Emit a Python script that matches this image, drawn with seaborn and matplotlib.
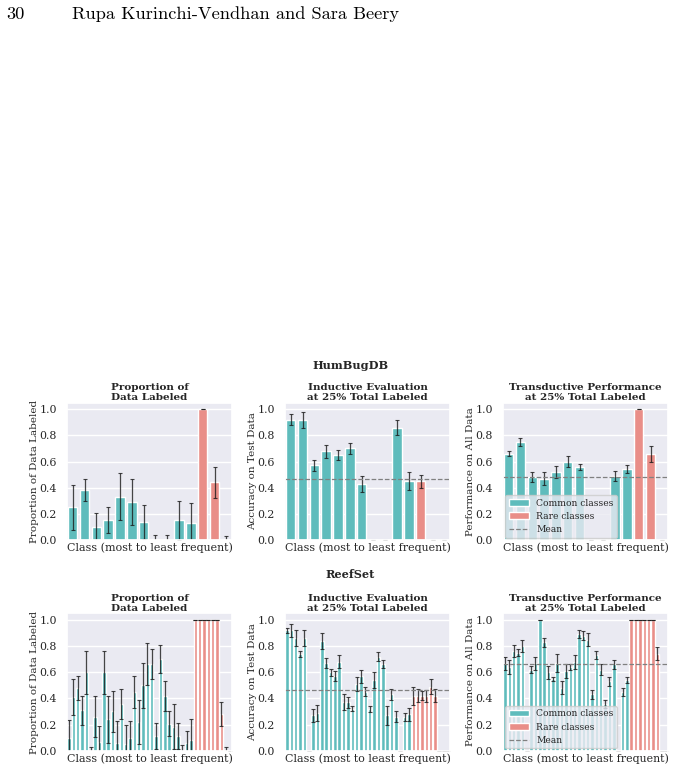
import numpy as np
import pandas as pd
import matplotlib
matplotlib.use("Agg")
import matplotlib.pyplot as plt
from matplotlib.patches import Patch
from matplotlib.lines import Line2D
import seaborn as sns

# ---- values ----
hb_prop = [0.25, 0.38, 0.10, 0.15, 0.33, 0.29, 0.14, 0, 0, 0.15, 0.13, 1.0, 0.44, 0]
hb_prop_err = [0.17, 0.085, 0.11, 0.10, 0.18, 0.175, 0.13, 0.04, 0.04, 0.15, 0.15, 0.0, 0.12, 0.03]
hb_ind = [0.92, 0.92, 0.57, 0.68, 0.65, 0.70, 0.43, 0, 0, 0.86, 0.45, 0.45, 0, 0]
hb_ind_err = [0.04, 0.06, 0.04, 0.05, 0.035, 0.04, 0.06, 0, 0, 0.06, 0.07, 0.05, 0, 0]
hb_trans = [0.66, 0.75, 0.48, 0.47, 0.52, 0.60, 0.56, 0, 0, 0.49, 0.54, 1.0, 0.66, 0]
hb_trans_err = [0.02, 0.03, 0.04, 0.05, 0.045, 0.045, 0.025, 0, 0, 0.04, 0.03, 0, 0.06, 0]
hb_rare_start = 11
hb_means = [0.47, 0.484]

rs_prop = [0.095, 0.41, 0.48, 0.31, 0.60, 0, 0.26, 0.07, 0.60, 0.24, 0.30, 0.06, 0.36,
           0.05, 0.10, 0.45, 0.22, 0.50, 0.66, 0.66, 0.11, 0.70, 0.42, 0.205, 0.185,
           0.11, 0, 0.06, 0.08, 1, 1, 1, 1, 1, 1, 0.28, 0, 0]
rs_prop_err = [0.14, 0.135, 0.095, 0.11, 0.165, 0.03, 0.155, 0.12, 0.165, 0.18, 0.155,
               0.17, 0.115, 0.15, 0.13, 0.12, 0.17, 0.17, 0.16, 0.115, 0.10, 0.105,
               0.115, 0.095, 0.17, 0.10, 0.04, 0.09, 0.16, 0, 0, 0, 0, 0, 0, 0.09, 0.03, 0]
rs_ind = [0.92, 0.92, 0.86, 0.74, 0.86, 0, 0.27, 0.29, 0.84, 0.67, 0.60, 0.57, 0.68,
          0.37, 0.37, 0.32, 0.51, 0.57, 0.45, 0.32, 0.54, 0.72, 0.66, 0.27, 0.43, 0.26,
          0, 0.26, 0.28, 0.42, 0.42, 0.42, 0.42, 0.49, 0.42, 0, 0, 0]
rs_ind_err = [0.02, 0.05, 0.06, 0.02, 0.06, 0, 0.05, 0.06, 0.06, 0.04, 0.025, 0.04, 0.05,
              0.06, 0.04, 0.02, 0.05, 0.05, 0.035, 0.025, 0.06, 0.035, 0.03, 0.07, 0.04,
              0.04, 0, 0.03, 0.05, 0.07, 0.05, 0.035, 0.045, 0.055, 0.05, 0, 0, 0]
rs_trans = [0.67, 0.64, 0.76, 0.75, 0.80, 0, 0.62, 0.67, 1.0, 0.83, 0.60, 0.55, 0.67,
            0.48, 0.61, 0.64, 0.68, 0.89, 0.88, 0.85, 0.43, 0.73, 0.62, 0.36, 0.53, 0.66,
            0, 0.45, 0.54, 1, 1, 1, 1, 1, 1, 0.74, 0, 0]
rs_trans_err = [0.05, 0.05, 0.045, 0.025, 0.045, 0, 0.025, 0.05, 0, 0.035, 0.05, 0.015,
                0.07, 0.05, 0.055, 0.025, 0.055, 0.03, 0.035, 0.05, 0.035, 0.03, 0.04,
                0.03, 0.035, 0.035, 0, 0.03, 0.02, 0, 0, 0, 0, 0, 0, 0.05, 0, 0]
rs_rare_start = 29
rs_means = [0.464, 0.666]

titles = ["Proportion of\nData Labeled",
          "Inductive Evaluation\nat 25% Total Labeled",
          "Transductive Performance\nat 25% Total Labeled"]
ylabels = ["Proportion of Data Labeled", "Accuracy on Test Data", "Performance on All Data"]
xlabel = "Class (most to least frequent)"

TEAL = "#5fbcbc"
SALMON = "#e98e88"

sns.set_theme(style="darkgrid")
plt.rcParams["font.family"] = "DejaVu Serif"
FS = 7.5

fig, axes = plt.subplots(2, 3, figsize=(6.75, 7.69), dpi=100)
fig.subplots_adjust(left=0.099, right=0.990, top=0.4763, bottom=0.0238,
                    wspace=0.317, hspace=0.535)


def panel(ax, vals, errs, rare_start, title, ylabel, mean=None, legend=False):
    n = len(vals)
    df = pd.DataFrame({"cls": np.arange(n), "val": vals,
                       "grp": ["rare" if i >= rare_start else "common" for i in range(n)]})
    sns.barplot(data=df, x="cls", y="val", hue="grp", dodge=False, ax=ax,
                palette={"common": TEAL, "rare": SALMON}, legend=False,
                errorbar=None, width=0.8, saturation=1)
    ax.errorbar(df["cls"], df["val"], yerr=errs, fmt="none", ecolor="#1a1a1a",
                elinewidth=0.9, capsize=1.3, capthick=0.8, alpha=0.8)
    if mean is not None:
        ax.axhline(mean, color="gray", ls="--", lw=0.9)
    ax.set_ylim(0, 1.05)
    ax.set_xlim(-0.5, n - 0.5)
    ax.set_xticks([])
    ax.set_yticks([0, 0.2, 0.4, 0.6, 0.8, 1.0])
    ax.tick_params(axis="y", labelsize=7.9, pad=1)
    ax.set_xlabel(xlabel, fontsize=7.9, labelpad=2)
    ax.set_ylabel(ylabel, fontsize=FS, labelpad=0.5)
    ax.set_title(title, fontsize=FS, fontweight="bold", pad=2, linespacing=1.15)
    if legend:
        handles = [Patch(facecolor=TEAL, label="Common classes"),
                   Patch(facecolor=SALMON, label="Rare classes"),
                   Line2D([0], [0], color="gray", ls="--", lw=0.9, label="Mean")]
        ax.legend(handles=handles, loc="lower left", fontsize=6.6,
                  borderaxespad=0.25, handlelength=2.2, labelspacing=0.45,
                  borderpad=0.4, framealpha=0.8)


panel(axes[0, 0], hb_prop, hb_prop_err, hb_rare_start, titles[0], ylabels[0])
panel(axes[0, 1], hb_ind, hb_ind_err, hb_rare_start, titles[1], ylabels[1], hb_means[0])
panel(axes[0, 2], hb_trans, hb_trans_err, hb_rare_start, titles[2], ylabels[2], hb_means[1], True)
panel(axes[1, 0], rs_prop, rs_prop_err, rs_rare_start, titles[0], ylabels[0])
panel(axes[1, 1], rs_ind, rs_ind_err, rs_rare_start, titles[1], ylabels[1], rs_means[0])
panel(axes[1, 2], rs_trans, rs_trans_err, rs_rare_start, titles[2], ylabels[2], rs_means[1], True)

fig.text(0.5185, 1 - 365 / 769, "HumBugDB", ha="center", va="center",
         fontsize=8.1, fontweight="bold")
fig.text(0.5185, 1 - 575 / 769, "ReefSet", ha="center", va="center",
         fontsize=8.1, fontweight="bold")

# page header
fig.text(6 / 675, 1 - 14 / 769, "30", ha="left", va="center", fontsize=13.2,
         family="cmr10", color="black")
fig.text(72 / 675, 1 - 14 / 769, "Rupa Kurinchi-Vendhan and Sara Beery", ha="left",
         va="center", fontsize=13.2, family="cmr10", color="black")

fig.savefig("out.png", dpi=100, facecolor="white")
